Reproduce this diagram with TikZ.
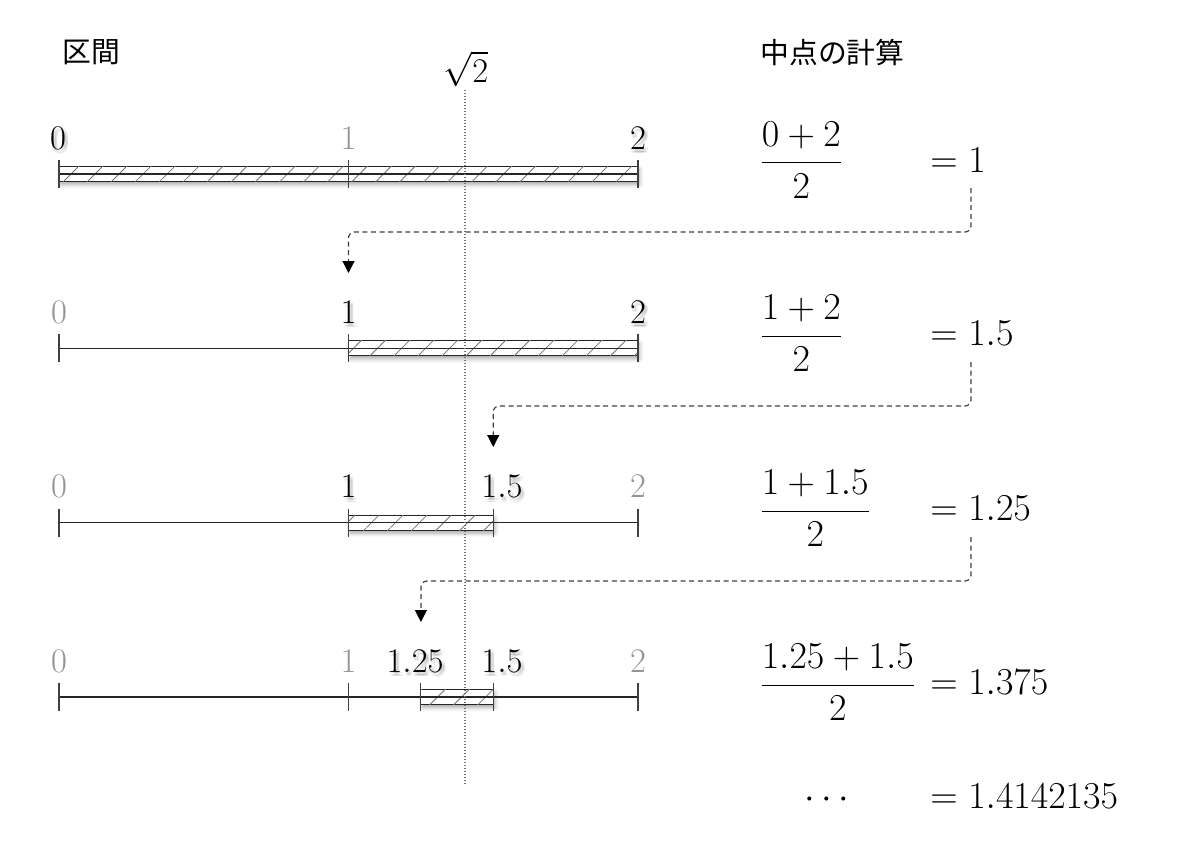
\RequirePackage{fix-cm}
\documentclass[tikz,border=0pt]{standalone}
\usepackage{fontspec}
\newfontfamily\jp{Noto Sans CJK JP}
\usetikzlibrary{arrows.meta,patterns.meta,shadows.blur}
\newcommand{\shl}[3]{%
  \foreach \sx in {0.2,1,1.8}{\foreach \sy in {-0.7,-1.5,-2.3}{%
    \node[lbl, text=black, opacity=0.045] at ([shift={(\sx pt,\sy pt)}]#2) {#3};}}%
  \node[lbl] (#1) at (#2) {#3};%
}
\begin{document}
\begin{tikzpicture}[x=0.5pt,y=-0.5pt,
  lbl/.style={inner sep=0pt, anchor=base, font=\LARGE},
  lblg/.style={lbl, text=black!42},
  eq/.style={inner sep=0pt, anchor=base west, font=\fontsize{19}{23}\selectfont},
  head/.style={inner sep=0pt, anchor=west, font=\jp\Large},
  axisline/.style={line width=0.55pt, black!85},
  tickmark/.style={line width=0.55pt, black!75},
  bar/.style={draw=black!85, line width=0.55pt, fill=white,
    postaction={pattern={Lines[angle=45,distance=8.5pt,line width=0.4pt]}, pattern color=black!55},
    blur shadow={shadow xshift=0.8pt, shadow yshift=-1.5pt, shadow blur radius=2pt, shadow opacity=35}},
  dasharrow/.style={black!75, line width=0.6pt, dash pattern=on 2.5pt off 1.8pt, rounded corners=3pt, -{Triangle[width=6pt,length=6pt,color=black]}},
  sqrtline/.style={black!55, line width=0.6pt, dash pattern=on 0.6pt off 0.9pt}
]
\useasboundingbox (0,0) rectangle (1200,846);

% headings
\node[head] (hk) at (62,52) {区間};
\node[head] (hc) at (760,52) {中点の計算};

% sqrt 2 reference line
\node[inner sep=0pt, font=\LARGE] (sq) at (466,69) {$\sqrt{2}$};
\coordinate (vtop) at (465,90);
\coordinate (vbot) at (465,785);

% ---- row 1 (axis 174)
\path[bar] (59,166.5) rectangle (638,181.5);
\draw[axisline] (59,174) -- (638,174);
\foreach \x in {59,348.5,638} \draw[tickmark] (\x,160) -- (\x,188);
\shl{r1a}{58,149}{$0$}
\node[lblg] (r1b) at (348.5,149) {$1$};
\shl{r1c}{638,149}{$2$}

% ---- row 2 (axis 348.3)
\path[bar] (348.5,340.8) rectangle (638,355.8);
\draw[axisline] (59,348.3) -- (638,348.3);
\foreach \x in {59,348.5,638} \draw[tickmark] (\x,334.3) -- (\x,362.3);
\node[lblg] (r2a) at (59,323.3) {$0$};
\shl{r2b}{348.5,323.3}{$1$}
\shl{r2c}{638,323.3}{$2$}

% ---- row 3 (axis 522.6)
\path[bar] (348.5,515.1) rectangle (493.25,530.1);
\draw[axisline] (59,522.6) -- (638,522.6);
\foreach \x in {59,348.5,493.25,638} \draw[tickmark] (\x,508.6) -- (\x,536.6);
\node[lblg] (r3a) at (59,497.6) {$0$};
\shl{r3b}{348.5,497.6}{$1$}
\shl{r3c}{502,497.6}{$1.5$}
\node[lblg] (r3d) at (638,497.6) {$2$};

% ---- row 4 (axis 697)
\path[bar] (420.9,689.5) rectangle (493.25,704.5);
\draw[axisline] (59,697) -- (638,697);
\foreach \x in {59,348.5,420.9,493.25,638} \draw[tickmark] (\x,683) -- (\x,711);
\node[lblg] (r4a) at (59,672) {$0$};
\node[lblg] (r4b) at (348.5,672) {$1$};
\shl{r4c}{415,672}{$1.25$}
\shl{r4d}{502,672}{$1.5$}
\node[lblg] (r4e) at (638,672) {$2$};

% dotted sqrt2 line (on top of bars)
\draw[sqrtline] (vtop) -- (vbot);

% ---- equations
\node[eq] (f1) at (759,172) {$\displaystyle\frac{0+2}{2}$};
\node[eq] (e1) at (930,172) {$=1$};
\node[eq] (f2) at (759,345.5) {$\displaystyle\frac{1+2}{2}$};
\node[eq] (e2) at (930,345.5) {$=1.5$};
\node[eq] (f3) at (759,520.5) {$\displaystyle\frac{1+1.5}{2}$};
\node[eq] (e3) at (930,520.5) {$=1.25$};
\node[eq] (f4) at (759,694.5) {$\displaystyle\frac{1.25+1.5}{2}$};
\node[eq] (e4) at (930,694.5) {$=1.375$};
\node[eq] (f5) at (804,808) {$\cdots$};
\node[eq] (e5) at (930,808) {$=1.4142135$};

% ---- dashed arrows
\coordinate (s1) at (971,188);   \coordinate (t1) at (348.5,273);
\coordinate (s2) at (971,362);   \coordinate (t2) at (493.25,447);
\coordinate (s3) at (971,537);   \coordinate (t3) at (420.9,622);
\draw[dasharrow] (s1) -- ++(0,44) -| (t1);
\draw[dasharrow] (s2) -- ++(0,44) -| (t2);
\draw[dasharrow] (s3) -- ++(0,44) -| (t3);
\end{tikzpicture}
\end{document}
